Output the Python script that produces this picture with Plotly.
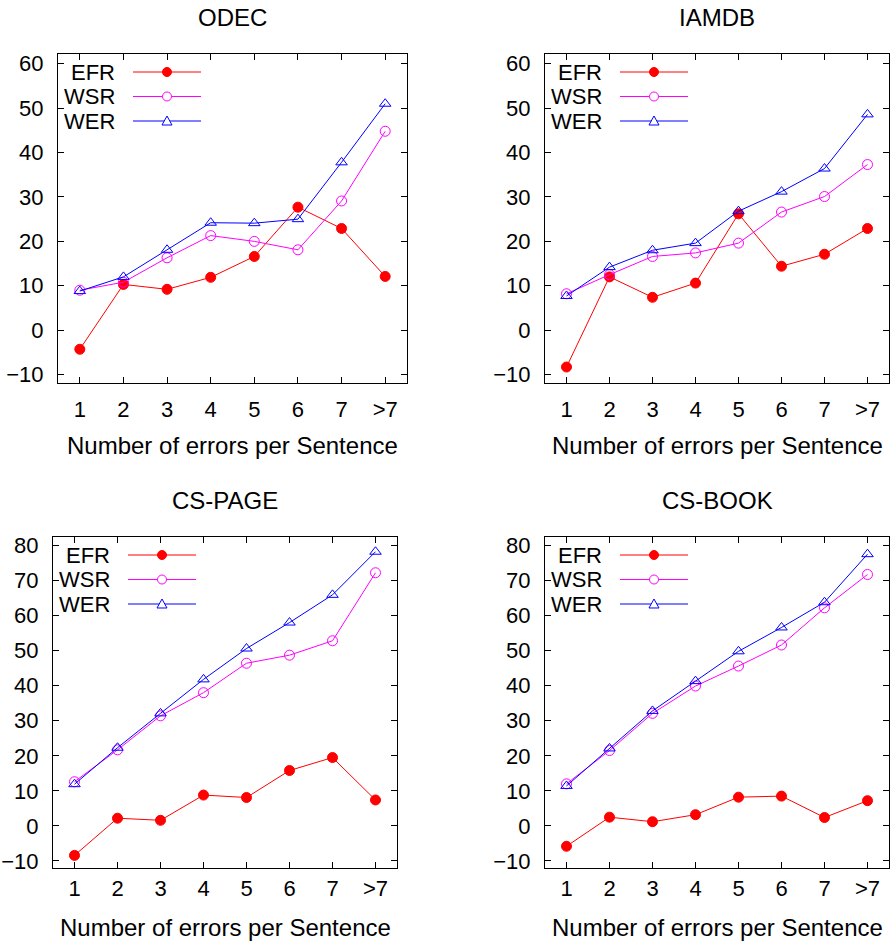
import plotly.graph_objects as go

W, H = 894, 943

categories = ["1", "2", "3", "4", "5", "6", "7", ">7"]
series_names = ["EFR", "WSR", "WER"]

odec_efr = [-4.3, 10.3, 9.2, 11.9, 16.6, 27.7, 22.9, 12.1]
odec_wsr = [9.0, 10.8, 16.3, 21.3, 20.0, 18.1, 29.1, 44.8]
odec_wer = [8.8, 12.0, 18.1, 24.2, 24.1, 25.0, 37.8, 51.0]

iamdb_efr = [-8.3, 12.0, 7.4, 10.6, 26.2, 14.4, 17.1, 22.9]
iamdb_wsr = [8.2, 12.5, 16.6, 17.4, 19.6, 26.6, 30.1, 37.3]
iamdb_wer = [7.7, 14.2, 18.0, 19.6, 26.8, 31.2, 36.4, 48.6]

cspage_efr = [-8.4, 2.2, 1.6, 8.8, 8.1, 15.8, 19.5, 7.4]
cspage_wsr = [12.6, 21.7, 31.4, 38.0, 46.4, 48.7, 52.8, 72.2]
cspage_wer = [11.9, 22.3, 32.1, 41.8, 50.6, 58.0, 65.9, 78.2]

csbook_efr = [-5.8, 2.5, 1.2, 3.2, 8.2, 8.5, 2.4, 7.2]
csbook_wsr = [12.0, 21.5, 32.1, 39.9, 45.6, 51.6, 62.2, 71.7]
csbook_wer = [11.4, 22.1, 32.8, 41.3, 49.8, 56.6, 63.8, 77.5]

panel_titles = ["ODEC", "IAMDB", "CS-PAGE", "CS-BOOK"]
panel_data = [
    (odec_efr, odec_wsr, odec_wer),
    (iamdb_efr, iamdb_wsr, iamdb_wer),
    (cspage_efr, cspage_wsr, cspage_wer),
    (csbook_efr, csbook_wsr, csbook_wer),
]
yticks_top = [-10, 0, 10, 20, 30, 40, 50, 60]
yticks_bottom = [-10, 0, 10, 20, 30, 40, 50, 60, 70, 80]

xlabel = "Number of errors per Sentence"

# pixel boxes of plot frames: (left, top, right, bottom)
boxes = [
    (58, 54, 407, 383),
    (545, 54, 889, 383),
    (53, 537, 397, 868),
    (545, 537, 889, 868),
]
yranges = [[-11.9, 62.2], [-11.9, 62.2], [-12.0, 82.4], [-12.0, 82.4]]
yticks = [yticks_top, yticks_top, yticks_bottom, yticks_bottom]
tick_gap = [25, 25, 19, 19]
title_gap = [62, 62, 59, 59]

colors = ["#ff0000", "#ff00ff", "#0000ff"]
symbols = ["circle", "circle-open", "triangle-up-open"]
msizes = [10, 10, 10]

FONT = "Liberation Sans, Arial, sans-serif"
TICK_SIZE = 22
TEXT_SIZE = 24

def px(x):
    return x / W

def py(y):
    return 1 - y / H

fig = go.Figure()
shapes = []
annotations = []

xpos = list(range(1, len(categories) + 1))

for i, (box, title) in enumerate(zip(boxes, panel_titles)):
    l, t, r, b = box
    sfx = "" if i == 0 else str(i + 1)
    xa, ya = "x" + sfx, "y" + sfx
    for s in range(3):
        fig.add_trace(go.Scatter(
            x=xpos, y=panel_data[i][s], mode="lines+markers",
            xaxis=xa, yaxis=ya, showlegend=False,
            line=dict(color=colors[s], width=1),
            marker=dict(symbol=symbols[s], size=msizes[s], color=colors[s],
                        line=dict(color=colors[s], width=1)),
        ))
    axis_common = dict(
        showgrid=False, zeroline=False, showline=True, linecolor="black",
        linewidth=1, mirror="ticks", ticks="inside", ticklen=6,
        tickcolor="black", automargin=False,
        tickfont=dict(family=FONT, size=TICK_SIZE, color="black"),
    )
    fig.layout["xaxis" + sfx] = dict(
        axis_common, domain=[px(l), px(r)], anchor=ya,
        range=[0.5, 8.5], tickmode="array", tickvals=xpos, ticktext=categories,
        ticklabelstandoff=tick_gap[i] - 18,
    )
    fig.layout["yaxis" + sfx] = dict(
        axis_common, domain=[py(b), py(t)], anchor=xa,
        range=yranges[i], tickmode="array", tickvals=yticks[i],
        ticklabelstandoff=9,
    )
    # titles
    annotations.append(dict(
        text=title, xref="paper", yref="paper", x=px((l + r) / 2), y=py(t - 36),
        xanchor="center", yanchor="middle", showarrow=False,
        font=dict(family=FONT, size=TEXT_SIZE, color="black")))
    annotations.append(dict(
        text=xlabel, xref="paper", yref="paper", x=px((l + r) / 2), y=py(b + title_gap[i]),
        xanchor="center", yanchor="middle", showarrow=False,
        font=dict(family=FONT, size=TEXT_SIZE, color="black")))
    # legend (gnuplot style: text, then sample line with marker)
    for s in range(3):
        ly = t + 18 + 24.5 * s
        annotations.append(dict(
            text=series_names[s], xref="paper", yref="paper", x=px(l + 59), y=py(ly),
            xanchor="right", yanchor="middle", showarrow=False,
            font=dict(family=FONT, size=TICK_SIZE, color="black")))
        shapes.append(dict(type="line", xref="paper", yref="paper",
                           x0=px(l + 75), x1=px(l + 143), y0=py(ly), y1=py(ly),
                           line=dict(color=colors[s], width=1)))
        cx, cy, rr = l + 109, ly, 4.5
        if s == 0:
            shapes.append(dict(type="circle", xref="paper", yref="paper",
                               x0=px(cx - rr), x1=px(cx + rr), y0=py(cy + rr), y1=py(cy - rr),
                               fillcolor=colors[s], line=dict(color=colors[s], width=1)))
        elif s == 1:
            shapes.append(dict(type="circle", xref="paper", yref="paper",
                               x0=px(cx - rr), x1=px(cx + rr), y0=py(cy + rr), y1=py(cy - rr),
                               fillcolor="white", line=dict(color=colors[s], width=1)))
        else:
            path = "M {:.5f},{:.5f} L {:.5f},{:.5f} L {:.5f},{:.5f} Z".format(
                px(cx - 5), py(cy + 4), px(cx + 5), py(cy + 4), px(cx), py(cy - 5))
            shapes.append(dict(type="path", xref="paper", yref="paper", path=path,
                               fillcolor="white", line=dict(color=colors[s], width=1)))

fig.update_layout(
    width=W, height=H, margin=dict(l=0, r=0, t=0, b=0),
    paper_bgcolor="white", plot_bgcolor="white",
    shapes=shapes, annotations=annotations, showlegend=False,
    font=dict(family=FONT, color="black"),
)

fig.write_html("out.html")
